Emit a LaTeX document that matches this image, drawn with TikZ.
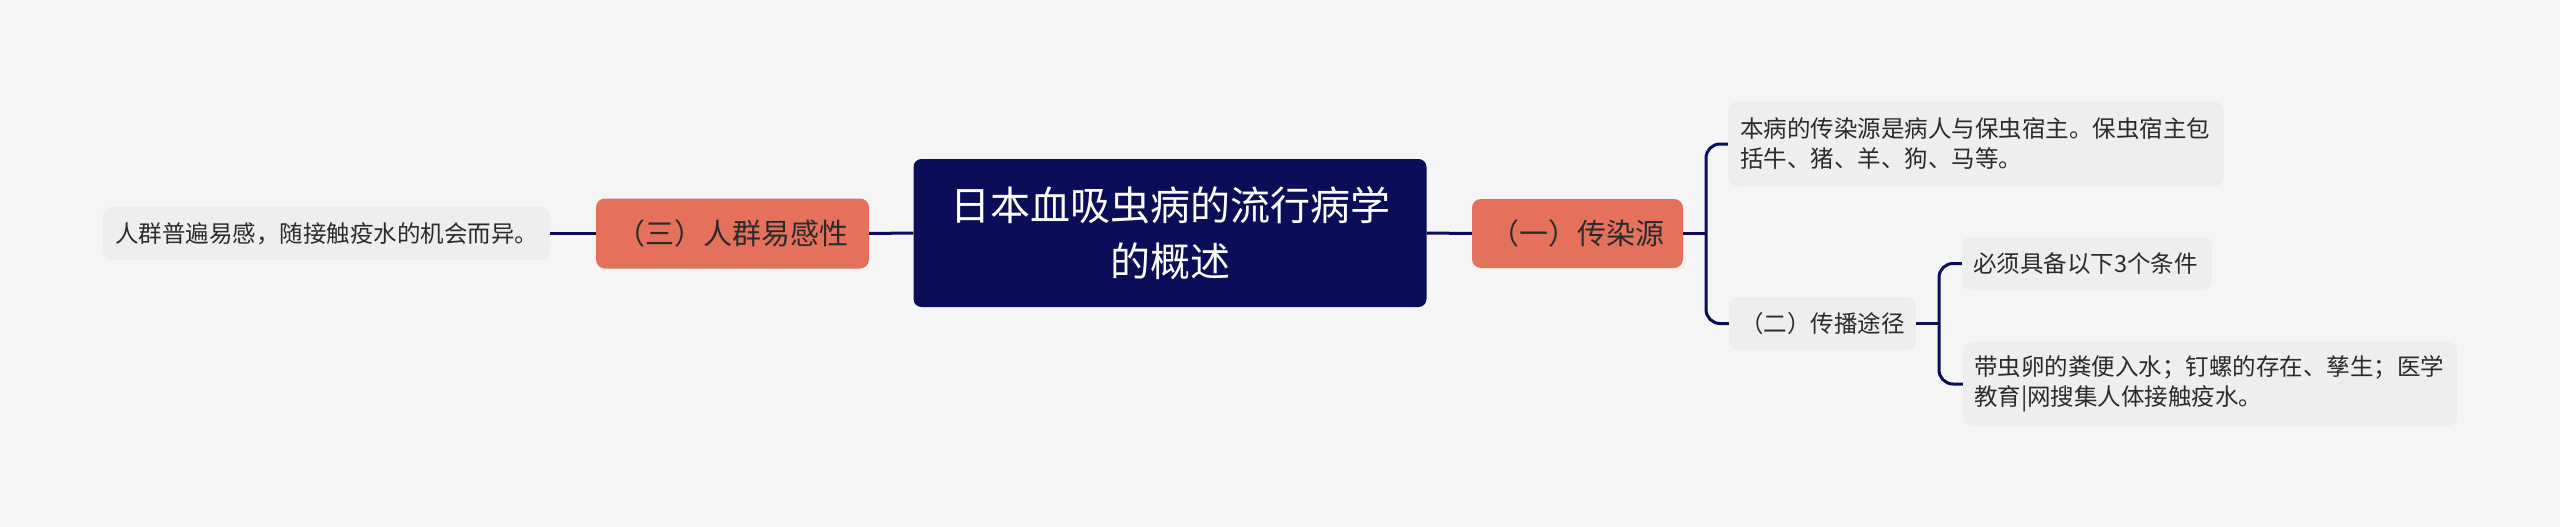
\documentclass[tikz,border=0pt]{standalone}
\usepackage{fontspec}
\setmainfont{Noto Sans CJK SC}
\definecolor{bg}{HTML}{F5F5F5}
\definecolor{navy}{HTML}{0A0D58}
\definecolor{coral}{HTML}{E5705B}
\definecolor{leaffill}{HTML}{EEEEEE}
\definecolor{txt}{HTML}{2B2B2B}
\tikzset{
  rootbox/.style={fill=navy, rounded corners=8pt, text=white, align=center,
    font=\fontsize{40}{56}\selectfont, inner sep=0pt},
  mainbox/.style={fill=coral, rounded corners=9pt, text=txt, align=center,
    font=\fontsize{29}{36}\selectfont, inner sep=0pt},
  leafbox/.style={fill=leaffill, rounded corners=9pt, text=txt, align=left,
    font=\fontsize{23.5}{30}\selectfont, inner sep=0pt},
  conn/.style={draw=navy, line width=3pt},
}
\begin{document}
\begin{tikzpicture}[x=1pt,y=-1pt]
\fill[bg] (0,0) rectangle (2560,527);
\useasboundingbox (0,0) rectangle (2560,527);
% root
\node[rootbox, minimum width=513pt, minimum height=148pt] (root) at (1170,233)
  {日本血吸虫病的流行病学\\的概述};
% left
\node[mainbox, minimum width=273pt, minimum height=70pt] (orangeL) at (732.5,233.5) {（三）人群易感性};
\node[leafbox, minimum width=447pt, minimum height=53pt] (leafL) at (326.5,233.5) {人群普遍易感，随接触疫水的机会而异。};
% right
\node[mainbox, minimum width=211pt, minimum height=69pt] (orangeR) at (1577.5,233.5) {（一）传染源};
\node[leafbox, minimum width=496pt, minimum height=84pt, text width=472pt] (leaf1) at (1976,144)
  {本病的传染源是病人与保虫宿主。保虫宿主包\\括牛、猪、羊、狗、马等。};
\node[leafbox, minimum width=187pt, minimum height=53pt, align=center] (leaf2) at (1822.5,323.5) {（二）传播途径};
\node[leafbox, minimum width=250pt, minimum height=53pt, text width=228pt] (leaf3) at (2087,263.5) {必须具备以下3个条件};
\node[leafbox, minimum width=494pt, minimum height=84pt, text width=472pt] (leaf4) at (2210,384)
  {带虫卵的粪便入水；钉螺的存在、孳生；医学\\教育|网搜集人体接触疫水。};
% junctions
\coordinate (j1) at (1706,233.5);
\coordinate (j2) at (1939,323.5);
% connectors
\draw[conn] (root.west) -- (orangeL.east);
\draw[conn] (orangeL.west) -- (leafL.east);
\draw[conn] (root.east) -- (orangeR.west);
\draw[conn] (orangeR.east) -- (j1);
\draw[conn, rounded corners=14pt] (leaf1.west) -| (j1) |- (leaf2.west);
\draw[conn] (leaf2.east) -- (j2);
\draw[conn, rounded corners=14pt] (leaf3.west) -| (j2) |- (leaf4.west);
\end{tikzpicture}
\end{document}
